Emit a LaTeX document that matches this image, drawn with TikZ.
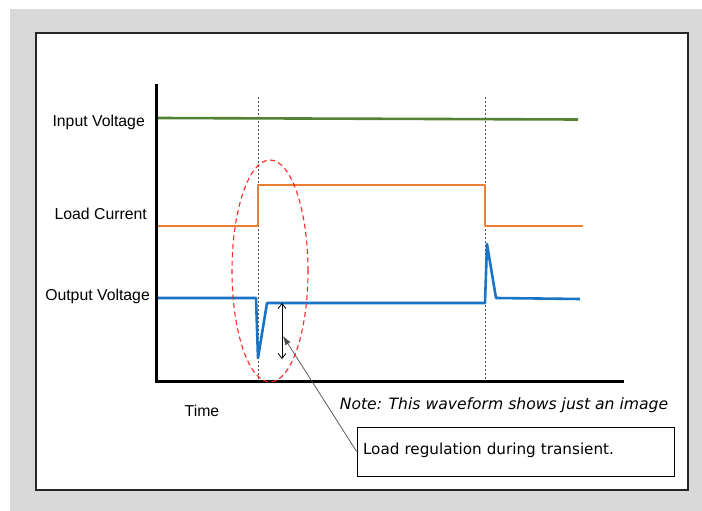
\documentclass[tikz,border=0pt]{standalone}
\usepackage{fontspec}
\setmainfont{Liberation Sans}
\newfontfamily\notefont{DejaVu Sans}
\usetikzlibrary{arrows.meta}
\definecolor{vincol}{HTML}{548235}
\definecolor{iloadcol}{HTML}{ED7D31}
\definecolor{voutcol}{HTML}{1874C4}
\definecolor{bggray}{HTML}{D9D9D9}
\begin{document}
\begin{tikzpicture}[x=1pt,y=-1pt,
    wave/.style={line width=2.6pt, line join=round},
    marker/.style={gray!60!black, line width=0.6pt, dash pattern=on 2pt off 2pt},
    siglabel/.style={anchor=east, font=\fontsize{15.8}{18}\selectfont, inner sep=0pt}]
    \useasboundingbox (0,0) rectangle (702,511);
    \fill[bggray] (10,9) rectangle (702,511);
    \draw[fill=white, draw=gray!30!black, line width=1.2pt] (36,33) rectangle (688,490);

    % time markers
    \draw[marker] (258,97) -- (258,381);
    \draw[marker] (485,97) -- (485,381);

    % waveforms
    \draw[wave, vincol] (158,118) -- (578,119.5);
    \draw[wave, iloadcol] (158,226) -- (258,226) -- (258,185) -- (485,185) -- (485,226) -- (583,226);
    \draw[wave, voutcol] (158,298) -- (256,298) -- (258,358) -- (267,303) -- (485,303)
        -- (487,244) -- (496,298) -- (580,299);

    % axes
    \draw[line width=3pt] (156,84) -- (156,381) -- (624,381);

    \node[siglabel] (lblin) at (145,122) {Input Voltage};
    \node[siglabel] (lblload) at (147,214) {Load Current};
    \node[siglabel] (lblout) at (150,296) {Output Voltage};
    \node[font=\fontsize{15.8}{18}\selectfont, inner sep=0pt] (lbltime) at (202,411) {Time};

    % regulation window
    \draw[red!85!white, line width=1.1pt, dash pattern=on 5pt off 3.5pt] (270,271) ellipse (38pt and 111pt);
    \coordinate (dvtop) at (282,303);
    \coordinate (dvbot) at (282,359);
    \draw[black, line width=0.8pt, {Straight Barb[length=5pt,width=8pt]}-{Straight Barb[length=5pt,width=8pt]}] (dvtop) -- (dvbot);
    \coordinate (dvmark) at (283,336);

    \node[font=\notefont\itshape\fontsize{15.6}{18}\selectfont, inner sep=0pt] (note) at (504,405) {Note: This waveform shows just an image};
    \node[draw, line width=0.8pt, minimum width=317pt, minimum height=49pt, text width=305pt, align=left,
          font=\notefont\fontsize{15.2}{18}\selectfont, fill=white] (callout) at (515.5,451.5)
          {Load regulation during transient.\\[-12pt]\mbox{}};
    \draw[gray!60!black, line width=0.7pt, -{Latex[length=9pt,width=6pt]}] (callout.west) -- (dvmark);
\end{tikzpicture}
\end{document}
